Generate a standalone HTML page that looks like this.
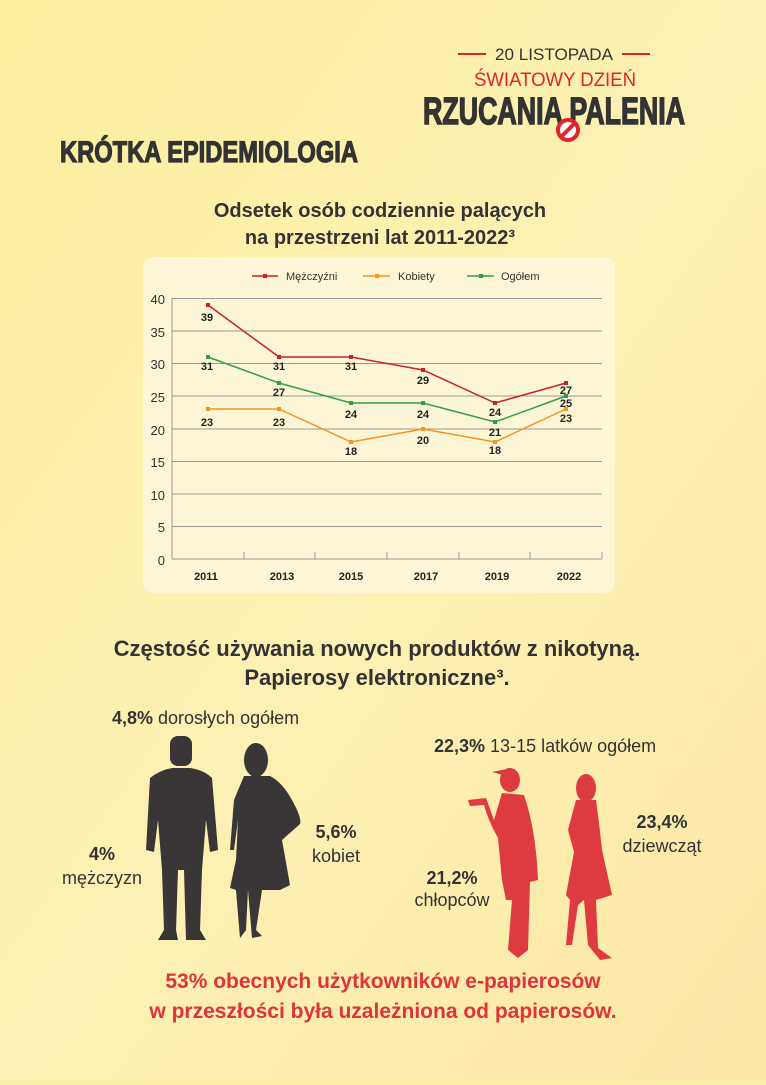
<!DOCTYPE html>
<html><head><meta charset="utf-8"><style>
html,body{margin:0;padding:0}
body{width:766px;height:1080px;overflow:hidden;background:#fbefa8;font-family:"Liberation Sans",sans-serif}
</style></head><body>
<svg width="766" height="1080" viewBox="0 0 766 1080" xmlns="http://www.w3.org/2000/svg" font-family="Liberation Sans, sans-serif">
<defs>
<linearGradient id="bg" x1="0" y1="0" x2="1" y2="1">
<stop offset="0" stop-color="#fbee9e"/><stop offset="0.5" stop-color="#fcf1b4"/><stop offset="1" stop-color="#fbe7a6"/>
</linearGradient>
</defs>
<rect width="766" height="1080" fill="url(#bg)"/>
<!-- header -->
<line x1="458" y1="54" x2="486" y2="54" stroke="#e0242c" stroke-width="2"/>
<line x1="622" y1="54" x2="650" y2="54" stroke="#e0242c" stroke-width="2"/>
<text x="554" y="60" font-size="17" fill="#333" text-anchor="middle" textLength="118" lengthAdjust="spacingAndGlyphs">20 LISTOPADA</text>
<text x="555" y="86" font-size="19" fill="#e0242c" text-anchor="middle" textLength="162" lengthAdjust="spacingAndGlyphs">ŚWIATOWY DZIEŃ</text>
<text x="423" y="124" font-size="38" font-weight="bold" fill="#333" stroke="#333" stroke-width="1.5" textLength="262" lengthAdjust="spacingAndGlyphs">RZUCANIA PALENIA</text>
<circle cx="568" cy="130" r="10" fill="#fff" stroke="#e0242c" stroke-width="4"/>
<line x1="561" y1="137" x2="575" y2="123" stroke="#e0242c" stroke-width="4"/>
<text x="60" y="162" font-size="30" font-weight="bold" fill="#333" stroke="#333" stroke-width="1.2" textLength="298" lengthAdjust="spacingAndGlyphs">KRÓTKA EPIDEMIOLOGIA</text>
<text x="380" y="217" font-size="20" font-weight="bold" fill="#333" text-anchor="middle">Odsetek osób codziennie palących</text>
<text x="380" y="244" font-size="20" font-weight="bold" fill="#333" text-anchor="middle">na przestrzeni lat 2011-2022³</text>
<!-- chart box -->
<rect x="143" y="257" width="472" height="336" rx="10" fill="#fdf6d6"/>
<g font-size="11" fill="#333">
<line x1="252" y1="276" x2="278" y2="276" stroke="#c8202e" stroke-width="1.5"/><rect x="263" y="274" width="4" height="4" fill="#c8202e"/><text x="286" y="280">Mężczyźni</text>
<line x1="363" y1="276" x2="390" y2="276" stroke="#f7931e" stroke-width="1.5"/><rect x="375" y="274" width="4" height="4" fill="#f7931e"/><text x="398" y="280">Kobiety</text>
<line x1="467" y1="276" x2="494" y2="276" stroke="#2ea043" stroke-width="1.5"/><rect x="479" y="274" width="4" height="4" fill="#2ea043"/><text x="501" y="280">Ogółem</text>
</g>
<g stroke="#999" stroke-width="1">
<line x1="172" y1="298.5" x2="602" y2="298.5"/><line x1="172" y1="331" x2="602" y2="331"/>
<line x1="172" y1="363.5" x2="602" y2="363.5"/><line x1="172" y1="396" x2="602" y2="396"/>
<line x1="172" y1="429" x2="602" y2="429"/><line x1="172" y1="461.5" x2="602" y2="461.5"/>
<line x1="172" y1="494" x2="602" y2="494"/><line x1="172" y1="526.5" x2="602" y2="526.5"/>
<line x1="172" y1="559" x2="602" y2="559"/><line x1="172" y1="298" x2="172" y2="559"/>
<line x1="244" y1="552" x2="244" y2="559"/><line x1="315" y1="552" x2="315" y2="559"/><line x1="387" y1="552" x2="387" y2="559"/><line x1="459" y1="552" x2="459" y2="559"/><line x1="530" y1="552" x2="530" y2="559"/><line x1="602" y1="552" x2="602" y2="559"/>
</g>
<g font-size="13" fill="#333" text-anchor="end">
<text x="165" y="304">40</text><text x="165" y="337">35</text><text x="165" y="369">30</text><text x="165" y="402">25</text><text x="165" y="435">20</text><text x="165" y="467">15</text><text x="165" y="500">10</text><text x="165" y="532">5</text><text x="165" y="565">0</text>
</g>
<g font-size="11" font-weight="bold" fill="#222" text-anchor="middle">
<text x="206" y="580">2011</text><text x="282" y="580">2013</text><text x="351" y="580">2015</text><text x="426" y="580">2017</text><text x="497" y="580">2019</text><text x="569" y="580">2022</text>
</g>
<polyline points="208,305 279,357 351,357 423,370 495,403 566,383" fill="none" stroke="#c8202e" stroke-width="1.5"/>
<polyline points="208,357 279,383 351,403 423,403 495,422 566,396" fill="none" stroke="#2ea043" stroke-width="1.5"/>
<polyline points="208,409 279,409 351,442 423,429 495,442 566,409" fill="none" stroke="#f7931e" stroke-width="1.5"/>
<g fill="#c8202e"><rect x="206" y="303" width="4" height="4"/><rect x="277" y="355" width="4" height="4"/><rect x="349" y="355" width="4" height="4"/><rect x="421" y="368" width="4" height="4"/><rect x="493" y="401" width="4" height="4"/><rect x="564" y="381" width="4" height="4"/></g>
<g fill="#2ea043"><rect x="206" y="355" width="4" height="4"/><rect x="277" y="381" width="4" height="4"/><rect x="349" y="401" width="4" height="4"/><rect x="421" y="401" width="4" height="4"/><rect x="493" y="420" width="4" height="4"/><rect x="564" y="394" width="4" height="4"/></g>
<g fill="#f7931e"><rect x="206" y="407" width="4" height="4"/><rect x="277" y="407" width="4" height="4"/><rect x="349" y="440" width="4" height="4"/><rect x="421" y="427" width="4" height="4"/><rect x="493" y="440" width="4" height="4"/><rect x="564" y="407" width="4" height="4"/></g>
<g font-size="11" font-weight="bold" fill="#222" text-anchor="middle">
<text x="207" y="321">39</text><text x="279" y="370">31</text><text x="351" y="370">31</text><text x="423" y="384">29</text><text x="495" y="416">24</text><text x="566" y="394">27</text>
<text x="207" y="370">31</text><text x="279" y="396">27</text><text x="351" y="418">24</text><text x="423" y="418">24</text><text x="495" y="436">21</text><text x="566" y="407">25</text>
<text x="207" y="426">23</text><text x="279" y="426">23</text><text x="351" y="455">18</text><text x="423" y="444">20</text><text x="495" y="454">18</text><text x="566" y="422">23</text>
</g>
<!-- section 2 -->
<text x="377" y="656" font-size="22" font-weight="bold" fill="#333" text-anchor="middle">Częstość używania nowych produktów z nikotyną.</text>
<text x="377" y="685" font-size="22" font-weight="bold" fill="#333" text-anchor="middle">Papierosy elektroniczne³.</text>
<text x="112" y="724" font-size="18" fill="#333"><tspan font-weight="bold">4,8%</tspan> dorosłych ogółem</text>
<text x="434" y="752" font-size="18" fill="#333"><tspan font-weight="bold">22,3%</tspan> 13-15 latków ogółem</text>
<text x="102" y="860" font-size="18" font-weight="bold" fill="#333" text-anchor="middle">4%</text>
<text x="102" y="884" font-size="18" fill="#333" text-anchor="middle">mężczyzn</text>
<text x="336" y="838" font-size="18" font-weight="bold" fill="#333" text-anchor="middle">5,6%</text>
<text x="336" y="862" font-size="18" fill="#333" text-anchor="middle">kobiet</text>
<text x="452" y="884" font-size="18" font-weight="bold" fill="#333" text-anchor="middle">21,2%</text>
<text x="452" y="906" font-size="18" fill="#333" text-anchor="middle">chłopców</text>
<text x="662" y="828" font-size="18" font-weight="bold" fill="#333" text-anchor="middle">23,4%</text>
<text x="662" y="852" font-size="18" fill="#333" text-anchor="middle">dziewcząt</text>
<!-- man -->
<g fill="#3a3536">
<rect x="170" y="736" width="22" height="30" rx="8"/>
<path d="M150 778 Q160 770 172 768 L190 768 Q204 770 212 778 L218 850 L210 852 L206 820 L202 870 L200 930 L206 940 L186 940 L184 870 L178 870 L176 930 L178 940 L158 940 L164 930 L162 870 L158 820 L154 852 L146 850 Z"/>
</g>
<!-- woman -->
<g fill="#3a3536">
<ellipse cx="256" cy="760" rx="12" ry="17"/>
<path d="M244 776 L270 776 Q282 782 292 800 Q302 818 300 824 L282 840 L290 885 L280 890 L262 890 L256 930 L262 936 L252 938 L248 890 L246 930 L240 938 L236 890 L230 888 L236 860 L238 820 L234 850 L230 850 L234 800 Z"/>
</g>
<!-- boy -->
<g fill="#de3b40">
<ellipse cx="510" cy="780" rx="10" ry="12"/>
<path d="M492 772 L512 768 L506 776 Z"/>
<path d="M502 793 L524 795 Q536 830 538 880 L530 882 L528 950 L518 958 L508 950 L512 900 L506 900 L502 880 L498 838 Q488 820 484 805 L470 806 L468 800 L486 798 L494 820 Z"/>
</g>
<!-- girl -->
<g fill="#de3b40">
<ellipse cx="586" cy="788" rx="10" ry="14"/>
<path d="M576 800 L596 800 Q600 830 602 850 L612 895 L596 900 L598 948 L612 958 L600 960 L588 945 L584 900 L578 905 L572 945 L566 945 L570 900 L566 895 L574 852 L568 830 Z"/>
</g>
<text x="383" y="988" font-size="21" font-weight="bold" fill="#e0343c" text-anchor="middle">53% obecnych użytkowników e-papierosów</text>
<text x="383" y="1018" font-size="21" font-weight="bold" fill="#e0343c" text-anchor="middle">w przeszłości była uzależniona od papierosów.</text>
</svg>
</body></html>
